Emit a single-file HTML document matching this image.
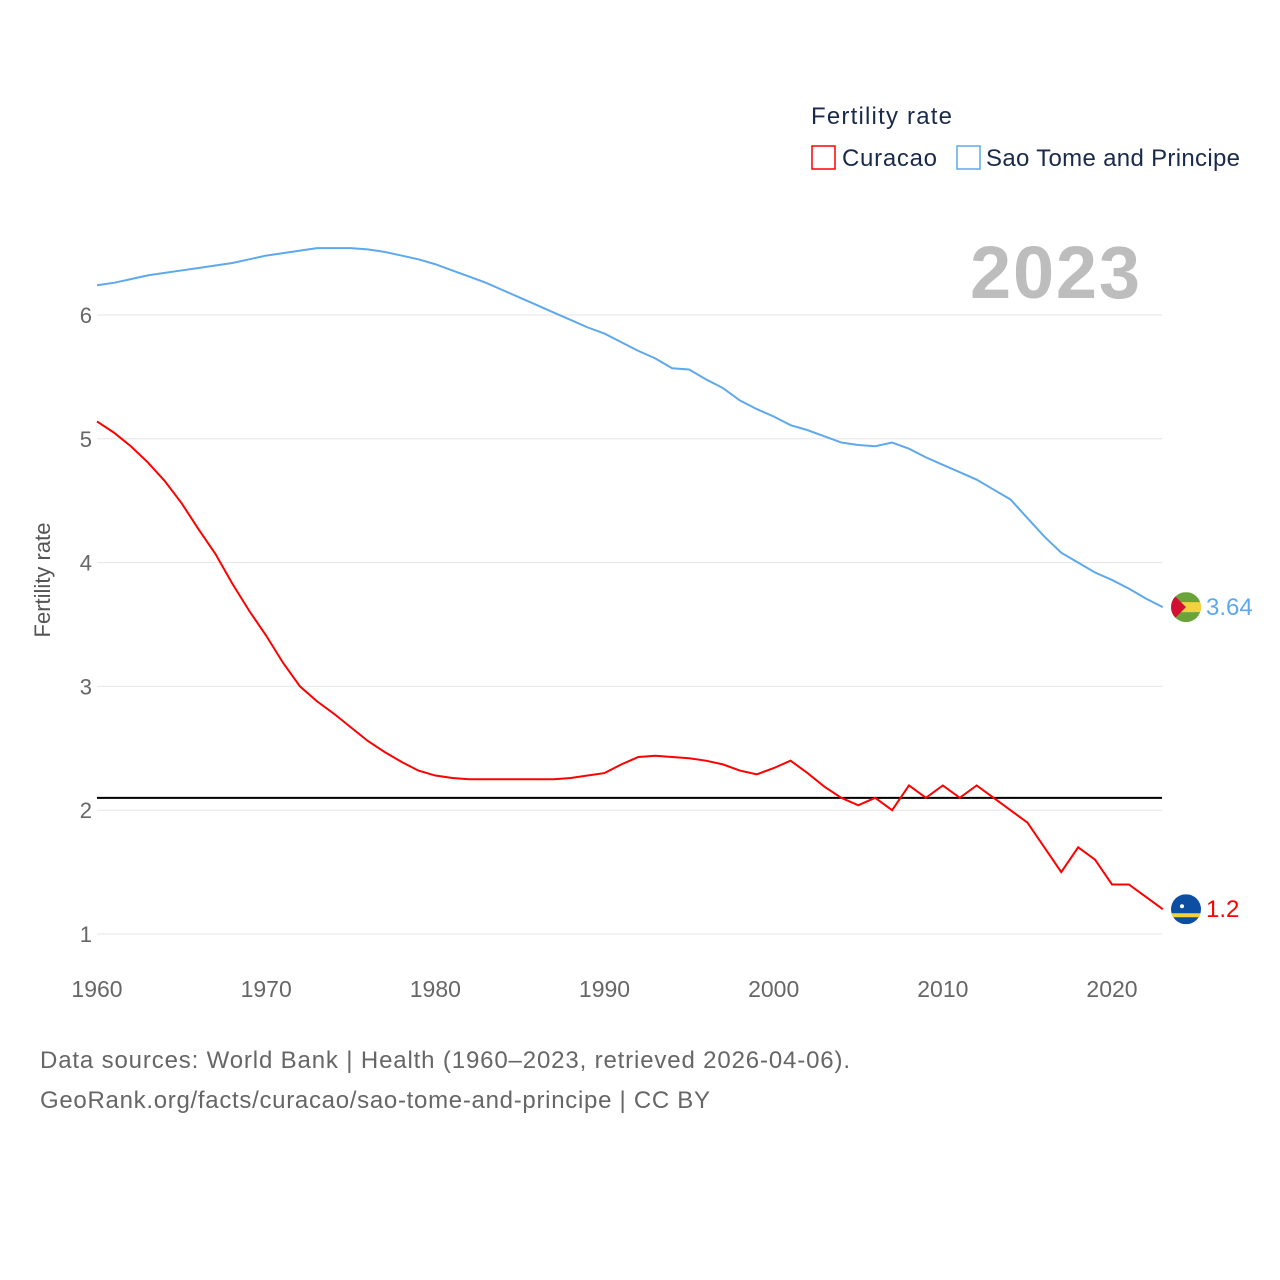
<!DOCTYPE html>
<html><head><meta charset="utf-8"><style>
html,body{margin:0;padding:0;background:#fff;width:1280px;height:1280px;overflow:hidden;font-family:"Liberation Sans",sans-serif}
</style></head><body>
<svg id="c" width="1280" height="1280" xmlns="http://www.w3.org/2000/svg">
<text x="811" y="124" font-size="24" fill="#1a2a4a" textLength="141" lengthAdjust="spacing">Fertility rate</text>
<g><rect x="812" y="146" width="23" height="23" fill="none" stroke="#f00" stroke-width="1.5"/><text x="842" y="166" font-size="24" fill="#1a2a4a" textLength="95" lengthAdjust="spacing">Curacao</text></g>
<g><rect x="957" y="146" width="23" height="23" fill="none" stroke="#5ea8ee" stroke-width="1.5"/><text x="986" y="166" font-size="24" fill="#1a2a4a" textLength="254" lengthAdjust="spacing">Sao Tome and Principe</text></g>
<text x="970" y="298" font-size="74" font-weight="bold" fill="#bdbdbd" textLength="170" lengthAdjust="spacing">2023</text>
<text transform="translate(50,580) rotate(-90)" font-size="22" fill="#555" text-anchor="middle">Fertility rate</text>
<g id="grid"></g><g id="series"></g>
<text x="40" y="1068" font-size="24" fill="#666" textLength="810" lengthAdjust="spacing">Data sources: World Bank | Health (1960–2023, retrieved 2026-04-06).</text>
<text x="40" y="1108" font-size="24" fill="#666" textLength="670" lengthAdjust="spacing">GeoRank.org/facts/curacao/sao-tome-and-principe | CC BY</text>
</svg>
<script>
const years=[];for(let y=1960;y<=2023;y++)years.push(y);
const saoTome=[6.24,6.26,6.29,6.32,6.34,6.36,6.38,6.40,6.42,6.45,6.48,6.50,6.52,6.54,6.54,6.54,6.53,6.51,6.48,6.45,6.41,6.36,6.31,6.26,6.20,6.14,6.08,6.02,5.96,5.90,5.85,5.78,5.71,5.65,5.57,5.56,5.48,5.41,5.31,5.24,5.18,5.11,5.07,5.02,4.97,4.95,4.94,4.97,4.92,4.85,4.79,4.73,4.67,4.59,4.51,4.36,4.21,4.08,4.00,3.92,3.86,3.79,3.71,3.64];
const curacao=[5.14,5.05,4.94,4.81,4.66,4.48,4.27,4.07,3.83,3.61,3.41,3.19,3.00,2.88,2.78,2.67,2.56,2.47,2.39,2.32,2.28,2.26,2.25,2.25,2.25,2.25,2.25,2.25,2.26,2.28,2.30,2.37,2.43,2.44,2.43,2.42,2.40,2.37,2.32,2.29,2.34,2.40,2.30,2.19,2.10,2.04,2.10,2.00,2.20,2.10,2.20,2.10,2.20,2.10,2.00,1.90,1.70,1.50,1.70,1.60,1.40,1.40,1.30,1.20];
const yTicks=[1,2,3,4,5,6];
const xTicks=[1960,1970,1980,1990,2000,2010,2020];
const replacement=2.1;
const NS="http://www.w3.org/2000/svg";
const X=v=>97+(v-1960)*(1015/60);
const Y=v=>934-(v-1)*123.8;
function mk(t,a,p){const e=document.createElementNS(NS,t);for(const k in a)e.setAttribute(k,a[k]);p.appendChild(e);return e;}
const g=document.getElementById('grid'),s=document.getElementById('series');
yTicks.forEach(t=>{const l=mk('line',{x1:97,x2:1162,y1:Y(t),y2:Y(t),stroke:'#e6e6e6'},g);


const tx=mk('text',{x:92,y:Y(t)+8,'font-size':22,fill:'#666','text-anchor':'end'},g);tx.textContent=t;

});
xTicks.forEach(t=>{const tx=mk('text',{x:X(t),y:997,'font-size':23,fill:'#666','text-anchor':'middle'},g);tx.textContent=t;

});
const rl=mk('line',{x1:97,x2:1162,y1:Y(replacement),y2:Y(replacement),stroke:'#000','stroke-width':2},g);


function line(vals,col,name){const p=mk('polyline',{points:vals.map((v,i)=>X(years[i])+','+Y(v)).join(' '),fill:'none',stroke:col,'stroke-width':2},s);

}
line(saoTome,'#5ea8ee','line-sao-tome');
line(curacao,'#f00','line-curacao');
const stY=Y(saoTome[saoTome.length-1]),cuY=Y(curacao[curacao.length-1]);
const f1=mk('g',{},s);


const cp1=mk('clipPath',{id:'cp1'},f1);mk('circle',{cx:1186,cy:stY,r:15},cp1);
const gg=mk('g',{'clip-path':'url(#cp1)'},f1);
mk('rect',{x:1171,y:stY-15,width:30,height:30,fill:'#6aa33a'},gg);
mk('rect',{x:1171,y:stY-5,width:30,height:10,fill:'#f5d23c'},gg);
mk('polygon',{points:`1171,${stY-15} 1186,${stY} 1171,${stY+15}`,fill:'#d21034'},gg);
const st=mk('text',{x:1206,y:stY+8,'font-size':24,fill:'#5ea8ee'},s);st.textContent='3.64';


const f2=mk('g',{},s);


const cp2=mk('clipPath',{id:'cp2'},f2);mk('circle',{cx:1186,cy:cuY,r:15},cp2);
const g2=mk('g',{'clip-path':'url(#cp2)'},f2);
mk('rect',{x:1171,y:cuY-15,width:30,height:30,fill:'#0b4ea2'},g2);
mk('rect',{x:1171,y:cuY+4,width:30,height:4,fill:'#f5d23c'},g2);
mk('circle',{cx:1182,cy:cuY-3,r:2,fill:'#fff'},g2);
const cu=mk('text',{x:1206,y:cuY+8,'font-size':24,fill:'#f00'},s);cu.textContent='1.2';


</script>
</body></html>
